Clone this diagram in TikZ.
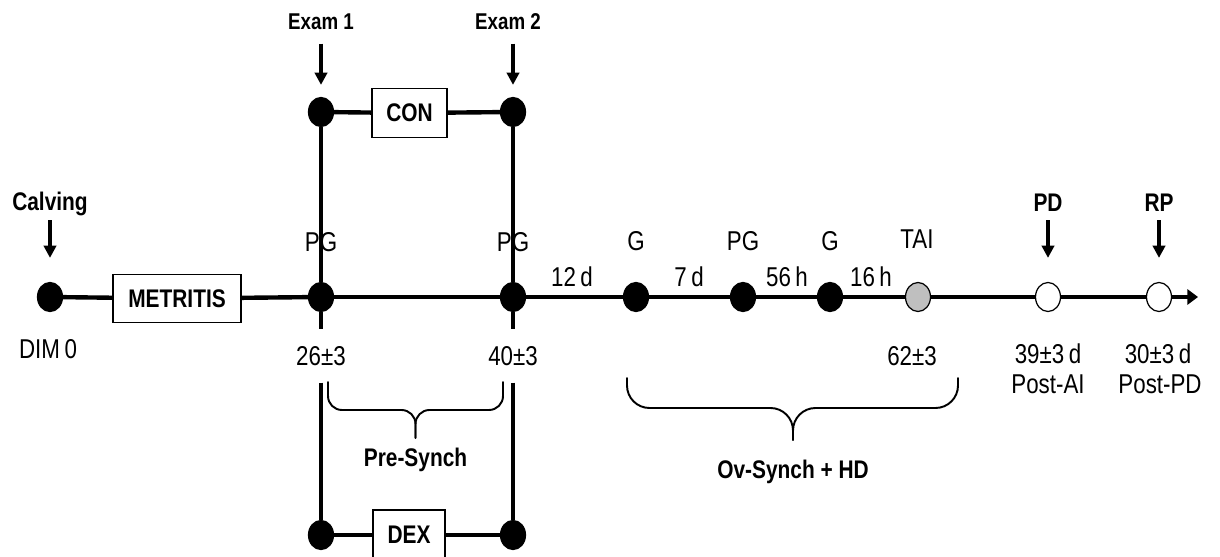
\documentclass[tikz,border=0pt]{standalone}
\usepackage{fontspec}
\setmainfont{Liberation Sans}[FakeStretch=0.82]
\usetikzlibrary{arrows.meta, shapes.geometric}
\tikzset{
	evtdot/.style={ellipse, draw, fill=black, line width=0.7pt, minimum width=0.5cm, minimum height=0.58cm, inner sep=0pt},
	opendot/.style={evtdot, fill=white},
	aidot/.style={evtdot, fill=black!25},
	stagebox/.style={draw, line width=0.6pt, minimum height=0.97cm, inner sep=0pt, font=\bfseries\fontsize{14.5}{17}\selectfont},
	tltext/.style={anchor=base, inner sep=1pt, font=\fontsize{15.5}{18}\selectfont},
	headtext/.style={anchor=base, inner sep=2pt, font=\bfseries\fontsize{14.5}{17}\selectfont},
	examtext/.style={headtext, font=\bfseries\fontsize{13}{15}\selectfont},
	gaptext/.style={tltext, inner ysep=0.34cm},
	tlline/.style={line width=2.5pt},
	tlarr/.style={tlline, -{Triangle[length=6pt, width=8.5pt]}},
	downarr/.style={line width=2.2pt, -{Triangle[length=7pt, width=7pt]}},
	bracepath/.style={line width=1.1pt, line cap=round},
}

\begin{document}
\begin{tikzpicture}[x=0.02cm, y=-0.02cm]
	\useasboundingbox (0,0) rectangle (1220,557);
	\clip (0,0) rectangle (1220,557);

	% main time line
	\node[evtdot] (cal) at (50,297) {};
	\node[stagebox, minimum width=2.56cm] (met) at (177,298.5) {METRITIS};
	\node[evtdot] (pg1) at (321,297) {};
	\node[evtdot] (pg2) at (513,297) {};
	\node[evtdot] (g1) at (636,297) {};
	\node[evtdot] (pg3) at (743,297) {};
	\node[evtdot] (g2) at (830,297) {};
	\node[aidot] (tai) at (918,297) {};
	\node[opendot] (pd) at (1048,297) {};
	\node[opendot] (rp) at (1159,297) {};
	\coordinate (tlend) at (1198,297);

	% exams on top, dex below
	\node[evtdot] (con1) at (321,112) {};
	\node[evtdot] (con2) at (513,112) {};
	\node[stagebox, minimum width=1.5cm] (conbox) at (409.5,113) {CON};
	\node[evtdot] (dex1) at (321,535) {};
	\node[evtdot] (dex2) at (513,535) {};
	\node[stagebox, minimum width=1.44cm, minimum height=1cm] (dexbox) at (409,535) {DEX};

	% texts
	\node[headtext] (calvlbl) at (50,211) {Calving};
	\node[examtext] (exam1) at (321,30) {Exam 1};
	\node[examtext] (exam2) at (508,30) {Exam 2};
	\node[headtext] (pdlbl) at (1048,212) {PD};
	\node[headtext] (rplbl) at (1159,212) {RP};

	\node[tltext] (pg1lbl) at (321,252) {PG};
	\node[tltext] (pg2lbl) at (513,252) {PG};
	\node[tltext] (g1lbl) at (636,251) {G};
	\node[tltext] (pg3lbl) at (743,251) {PG};
	\node[tltext] (g2lbl) at (830,251) {G};
	\node[tltext] (tailbl) at (917,249) {TAI};

	\node[tltext] (d12) at (572,286) {12\,d};
	\node[tltext] (d7) at (689,286) {7\,d};
	\node[tltext] (h56) at (787,286) {56\,h};
	\node[tltext] (h16) at (871,286) {16\,h};

	\node[tltext] (dim0) at (48,358) {DIM\,0};
	\node[gaptext] (v26) at (321,365) {26±3};
	\node[gaptext] (v40) at (513,365) {40±3};
	\node[tltext] (v62) at (912,365) {62±3};
	\node[tltext] (pdday) at (1048,363) {39±3\,d};
	\node[tltext] (postai) at (1048,393) {Post-AI};
	\node[tltext] (rpday) at (1158,363) {30±3\,d};
	\node[tltext] (postpd) at (1160,393) {Post-PD};

	\node[headtext] (presynch) at (415.5,466) {Pre-Synch};
	\node[headtext] (ovsynch) at (793,478) {Ov-Synch + HD};

	% connectors
	\foreach \a/\b in {cal/met, met/pg1, pg1/pg2, pg2/g1, g1/pg3, pg3/g2, g2/tai, tai/pd, pd/rp,
		con1/conbox, conbox/con2, dex1/dexbox, dexbox/dex2,
		con1/pg1, pg1/v26, v26/dex1, con2/pg2, pg2/v40, v40/dex2}
		\draw[tlline] (\a) -- (\b);
	\draw[tlarr] (rp) -- (tlend);

	\draw[downarr, shorten >=0.48cm] (calvlbl) -- (cal);
	\draw[downarr, shorten <=0.19cm, shorten >=0.24cm] (exam1) -- (con1);
	\draw[downarr, shorten <=0.19cm, shorten >=0.24cm] (exam2.south -| con2) -- (con2);
	\draw[downarr, shorten <=0.09cm, shorten >=0.48cm] (pdlbl) -- (pd);
	\draw[downarr, shorten <=0.09cm, shorten >=0.48cm] (rplbl) -- (rp);

	% braces
	\draw[bracepath, rounded corners=0.28cm] (328,382) -- (328,410) -- (415.5,410) -- (415.5,438);
	\draw[bracepath, rounded corners=0.28cm] (503,382) -- (503,410) -- (415.5,410) -- (415.5,438);
	\draw[bracepath, rounded corners=0.45cm] (627,378) -- (627,408) -- (793,408) -- (793,440);
	\draw[bracepath, rounded corners=0.45cm] (958,378) -- (958,408) -- (793,408) -- (793,440);
\end{tikzpicture}
\end{document}
